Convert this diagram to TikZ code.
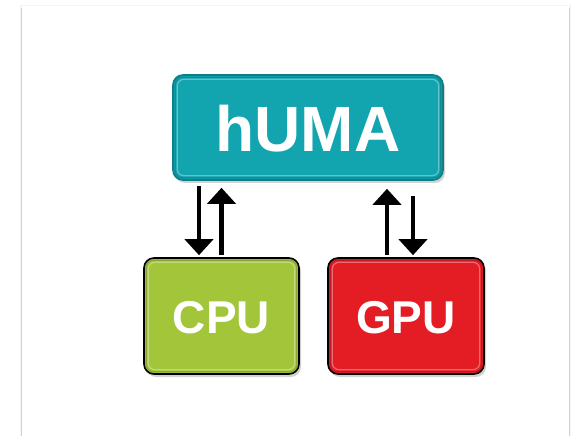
\documentclass[tikz,border=0pt]{standalone}
\usepackage{fontspec}
\setmainfont{Liberation Sans}
\usetikzlibrary{arrows.meta,shadows}
\definecolor{humateal}{HTML}{12A4AF}
\definecolor{humaedge}{HTML}{0B7F88}
\definecolor{cpugreen}{HTML}{A2C53A}
\definecolor{gpured}{HTML}{E41C24}
\tikzset{
  box/.style={rectangle, rounded corners=10pt, line width=1.6pt, inner sep=0pt,
    drop shadow={shadow xshift=2pt, shadow yshift=-3pt, opacity=0.35}},
  bevel/.style={rounded corners=7pt, line width=1.2pt, draw=white, draw opacity=0.35},
  bevelb/.style={rounded corners=7pt, line width=1.2pt, draw=black, draw opacity=0.15},
  arr/.style={line width=4.5pt, -{Triangle[width=28pt,length=16pt]}, black},
  lbl/.style={text=white, font=\bfseries}
}
\begin{document}
\begin{tikzpicture}[x=1pt,y=1pt]
\useasboundingbox (0,0) rectangle (574,-436);
% page frame
\fill[black!4] (20,-5) rectangle (571,-436);
\fill[white] (22,-6) rectangle (569,-436);
\draw[black!18, line width=1.5pt] (21.5,-8) -- (21.5,-436);
\draw[black!18, line width=1.5pt] (569.5,-8) -- (569.5,-436);
% boxes
\node[box, fill=humateal, draw=humaedge, minimum width=270pt, minimum height=105pt] (huma) at (308,-127.5) {};
\node[box, fill=cpugreen, draw=black, minimum width=155pt, minimum height=116pt] (cpu) at (221.5,-316) {};
\node[box, fill=gpured, draw=black, minimum width=156pt, minimum height=116pt] (gpu) at (406,-316) {};
\foreach \n in {huma,cpu,gpu}{
  \draw[bevel] ([shift={(5pt,-5pt)}]\n.north west) rectangle ([shift={(-5pt,5pt)}]\n.south east);
  \draw[bevelb] ([shift={(3pt,-3pt)}]\n.north west) rectangle ([shift={(-3pt,3pt)}]\n.south east);
}
% labels
\node[lbl, font=\bfseries\fontsize{64pt}{64pt}\selectfont] at ([yshift=-1pt]huma.center) {hUMA};
\node[lbl, font=\bfseries\fontsize{46pt}{46pt}\selectfont] at ([yshift=-2pt]cpu.center) {CPU};
\node[lbl, font=\bfseries\fontsize{46pt}{46pt}\selectfont] at ([yshift=-2pt]gpu.center) {GPU};
% arrows
\draw[arr] ([xshift=-22.5pt,yshift=-5pt]cpu.north |- huma.south) -- ([xshift=-22.5pt,yshift=2pt]cpu.north);
\draw[arr] ([yshift=2pt]cpu.north) -- ([yshift=-7pt]cpu.north |- huma.south);
\draw[arr] ([xshift=-19pt,yshift=2pt]gpu.north) -- ([xshift=-19pt,yshift=-8pt]gpu.north |- huma.south);
\draw[arr] ([xshift=7pt,yshift=-15pt]gpu.north |- huma.south) -- ([xshift=7pt,yshift=2pt]gpu.north);
\end{tikzpicture}
\end{document}
